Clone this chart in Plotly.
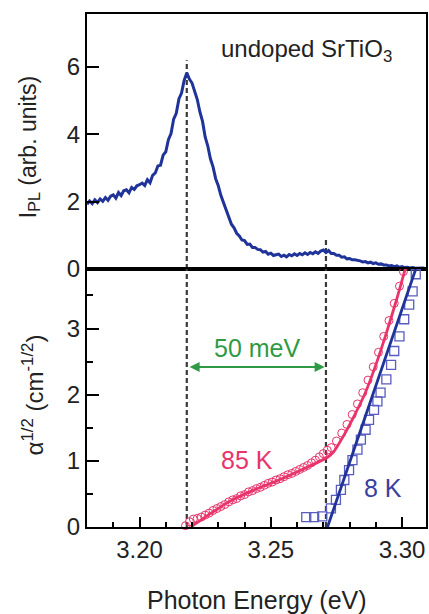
import plotly.graph_objects as go
from plotly.subplots import make_subplots

# ---- data ----
pl_start = 3.180
pl_step = 0.001
pl_intensity = [
    1.92, 2.02, 1.94, 2.05, 1.97, 2.08, 2.01, 2.12, 2.04, 2.16,
    2.20, 2.10, 2.27, 2.18, 2.32, 2.35, 2.26, 2.42, 2.36, 2.47,
    2.50, 2.55, 2.48, 2.65, 2.56, 2.78, 2.85, 3.06, 3.08, 3.38,
    3.48, 3.84, 4.02, 4.45, 4.62, 5.05, 5.22, 5.60, 5.82, 5.64,
    5.52, 5.26, 5.03, 4.66, 4.38, 3.92, 3.65, 3.27, 3.03, 2.68,
    2.47, 2.18, 1.97, 1.70, 1.52, 1.33, 1.22, 1.06, 0.98, 0.86,
    0.84, 0.73, 0.74, 0.64, 0.64, 0.58, 0.57, 0.50, 0.52, 0.44,
    0.47, 0.40, 0.42, 0.44, 0.37, 0.41, 0.36, 0.43, 0.39, 0.45,
    0.40, 0.46, 0.42, 0.48, 0.43, 0.49, 0.45, 0.51, 0.46, 0.53,
    0.56, 0.49, 0.55, 0.46, 0.46, 0.41, 0.41, 0.35, 0.36, 0.30,
    0.31, 0.27, 0.27, 0.26, 0.24, 0.21, 0.22, 0.18, 0.20, 0.16,
    0.18, 0.14, 0.15, 0.12, 0.12, 0.09, 0.10, 0.07, 0.09, 0.05,
    0.07, 0.04, 0.05, 0.03, 0.04, 0.02, 0.03, 0.02, 0.03, 0.01,
    0.02,
]
pl_energy = [round(pl_start + i * pl_step, 4) for i in range(len(pl_intensity))]

e85_pts = [3.2175, 3.2190, 3.2205, 3.2220, 3.2235, 3.2250, 3.2265, 3.2280, 3.2295,
           3.2310, 3.2325, 3.2340, 3.2355, 3.2370, 3.2385, 3.2400, 3.2415, 3.2430,
           3.2445, 3.2460, 3.2475, 3.2490, 3.2505, 3.2520, 3.2535, 3.2550, 3.2565,
           3.2580, 3.2595, 3.2610, 3.2625, 3.2640, 3.2655, 3.2670, 3.2685, 3.2700,
           3.2715, 3.2730, 3.2750, 3.2770, 3.2790, 3.2810, 3.2830, 3.2850, 3.2870,
           3.2890, 3.2910, 3.2930, 3.2950, 3.2970, 3.2990, 3.3005]
a85_pts = [0.02, 0.08, 0.12, 0.13, 0.15, 0.18, 0.21, 0.25, 0.28,
           0.31, 0.34, 0.38, 0.41, 0.43, 0.47, 0.49, 0.53, 0.55,
           0.58, 0.60, 0.63, 0.66, 0.68, 0.71, 0.73, 0.76, 0.79,
           0.81, 0.84, 0.87, 0.90, 0.93, 0.97, 1.01, 1.06, 1.11,
           1.16, 1.20, 1.30, 1.42, 1.55, 1.70, 1.86, 2.03, 2.22,
           2.42, 2.64, 2.88, 3.12, 3.38, 3.64, 3.86]

e85_fit = [3.2195, 3.2250, 3.2340, 3.2430, 3.2530, 3.2620, 3.2715, 3.2740,
           3.2780, 3.2820, 3.2860, 3.2900, 3.2940, 3.2980, 3.3012]
a85_fit = [0.00, 0.15, 0.38, 0.55, 0.71, 0.87, 1.05, 1.14,
           1.40, 1.70, 2.03, 2.45, 2.93, 3.45, 3.90]

e8_pts = [3.2635, 3.2665, 3.2696, 3.2729, 3.2748, 3.2767, 3.2780, 3.2798, 3.2811,
          3.2830, 3.2843, 3.2861, 3.2874, 3.2893, 3.2906, 3.2918, 3.2940, 3.2958,
          3.2970, 3.2990, 3.3008, 3.3027, 3.3040, 3.3052]
a8_pts = [0.15, 0.15, 0.16, 0.28, 0.41, 0.56, 0.71, 0.86, 1.01,
          1.17, 1.32, 1.47, 1.62, 1.77, 1.90, 2.03, 2.23, 2.45,
          2.66, 2.88, 3.14, 3.36, 3.56, 3.82]

e8_fit = [3.2716, 3.3052]
a8_fit = [0.0, 3.9]

peak_energies = [3.2180, 3.2710]
peak_tops = [6.2, 0.95]

# ---- style ----
FONT = "Liberation Sans, Arial, sans-serif"
BLUE = "#1f3399"
SQ = "#5a5cc0"
PINK = "#e8336b"
GREEN = "#2f9a45"
GREY = "#3a3a3a"

fig = make_subplots(rows=2, cols=1, shared_xaxes=True, vertical_spacing=0,
                    row_heights=[0.497, 0.503])

fig.add_trace(go.Scatter(x=pl_energy, y=pl_intensity, mode="lines",
                         line=dict(color=BLUE, width=3), showlegend=False),
              row=1, col=1)

fig.add_trace(go.Scatter(x=e85_pts, y=a85_pts, mode="markers",
                         marker=dict(symbol="circle-open", size=8, color=PINK,
                                     line=dict(width=1, color=PINK)),
                         showlegend=False, cliponaxis=False), row=2, col=1)
fig.add_trace(go.Scatter(x=e8_pts, y=a8_pts, mode="markers",
                         marker=dict(symbol="square-open", size=9, color=SQ,
                                     line=dict(width=1.3, color=SQ)),
                         showlegend=False, cliponaxis=False), row=2, col=1)
fig.add_trace(go.Scatter(x=e85_fit, y=a85_fit, mode="lines",
                         line=dict(color=PINK, width=2.8, shape="spline", smoothing=0.6),
                         showlegend=False), row=2, col=1)
fig.add_trace(go.Scatter(x=e8_fit, y=a8_fit, mode="lines",
                         line=dict(color=BLUE, width=2.8), showlegend=False),
              row=2, col=1)

# dashed guide lines
for e, top in zip(peak_energies, peak_tops):
    fig.add_shape(type="line", x0=e, x1=e, y0=0, y1=top, xref="x", yref="y",
                  line=dict(color=GREY, width=2.2, dash="5px,3px"), layer="below")
    fig.add_shape(type="line", x0=e, x1=e, y0=0, y1=3.9, xref="x2", yref="y2",
                  line=dict(color=GREY, width=2.2, dash="5px,3px"), layer="below")

# arrow
fig.add_annotation(x=peak_energies[1] - 0.0005, y=2.42, ax=peak_energies[0] + 0.0005, ay=2.42,
                   xref="x2", yref="y2", axref="x2", ayref="y2", text="",
                   showarrow=True, arrowhead=2, arrowside="end+start",
                   arrowwidth=2, arrowsize=1, arrowcolor=GREEN)

tick_font = dict(family=FONT, size=24, color="#222")
fig.add_annotation(x=3.2446, y=2.71, xref="x2", yref="y2", text="50 meV",
                   showarrow=False, font=dict(family=FONT, size=25, color=GREEN))
fig.add_annotation(x=3.2408, y=1.02, xref="x2", yref="y2", text="85 K",
                   showarrow=False, font=dict(family=FONT, size=25, color=PINK))
fig.add_annotation(x=3.2928, y=0.59, xref="x2", yref="y2", text="8 K",
                   showarrow=False, font=dict(family=FONT, size=25, color="#3a3fa0"))
fig.add_annotation(x=3.2635, y=6.5, xref="x", yref="y", text="undoped SrTiO<sub>3</sub>",
                   showarrow=False, font=dict(family=FONT, size=24, color="#222"))

# axis titles
fig.add_annotation(x=-0.17, y=0.741, xref="paper", yref="paper",
                   text="I<sub>PL</sub> (arb. units)", textangle=-90, showarrow=False,
                   xanchor="center", yanchor="middle",
                   font=dict(family=FONT, size=23, color="#222"))
fig.add_annotation(x=-0.16, y=0.258, xref="paper", yref="paper",
                   text="α<sup>1/2</sup> (cm<sup>-1/2</sup>)", textangle=-90, showarrow=False,
                   xanchor="center", yanchor="middle",
                   font=dict(family=FONT, size=24, color="#222"))
fig.add_annotation(x=0.5, y=-0.142, xref="paper", yref="paper",
                   text="Photon Energy (eV)", showarrow=False,
                   xanchor="center", yanchor="middle",
                   font=dict(family=FONT, size=25, color="#222"))

xcommon = dict(range=[3.18, 3.3091], showline=True, linewidth=2, linecolor="black",
               mirror=True, showgrid=False, zeroline=False, automargin=False)
fig.update_xaxes(**xcommon, showticklabels=False, ticks="", row=1, col=1)
fig.update_xaxes(**xcommon, ticks="inside", ticklen=10, tickwidth=2, tickcolor="black",
                 tick0=3.20, dtick=0.05, tickformat=".2f", tickfont=tick_font,
                 minor=dict(dtick=0.01, tick0=3.18, ticks="inside", ticklen=5,
                            tickwidth=2, tickcolor="black"),
                 row=2, col=1)

ycommon = dict(showline=True, linewidth=2, linecolor="black", mirror=True,
               showgrid=False, zeroline=False, ticks="inside", tickwidth=2,
               tickcolor="black", tickfont=tick_font, automargin=False)
fig.update_yaxes(**ycommon, range=[0, 7.57], tick0=0, dtick=2, ticklen=12, row=1, col=1)
fig.update_yaxes(**ycommon, range=[0, 3.9], tick0=0, dtick=1, ticklen=12,
                 minor=dict(dtick=0.5, ticks="inside", ticklen=6, tickwidth=2,
                            tickcolor="black"),
                 row=2, col=1)

fig.update_layout(width=429, height=614, margin=dict(l=87, r=3, t=14, b=87, autoexpand=False),
                  plot_bgcolor="white", paper_bgcolor="white",
                  font=dict(family=FONT))

fig.write_html("out.html", config={"displayModeBar": False},
               post_script="document.body.style.margin='0';document.body.style.overflow='hidden';")
